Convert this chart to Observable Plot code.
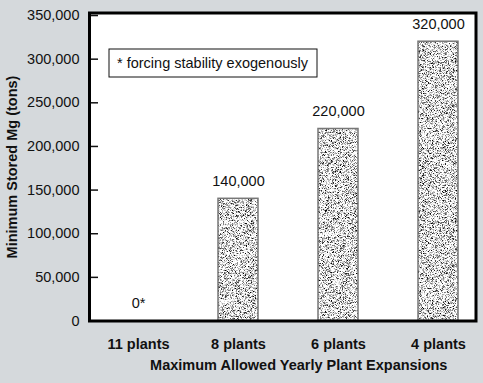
<!DOCTYPE html>
<html>
<head>
<meta charset="utf-8">
<script src="https://cdn.jsdelivr.net/npm/d3@7"></script>
<script src="https://cdn.jsdelivr.net/npm/@observablehq/plot@0.6"></script>
<style>
  html, body { margin: 0; padding: 0; background: #d5d9dc; }
  #chart { width: 483px; height: 383px; }
  svg { display: block; }
</style>
</head>
<body>
<div id="chart"></div>
<script>
const categories = ["11 plants", "8 plants", "6 plants", "4 plants"];
const values = [0, 140000, 220000, 320000];
const valueLabels = ["0*", "140,000", "220,000", "320,000"];
const yTicks = [0, 50000, 100000, 150000, 200000, 250000, 300000, 350000];
const yTitle = "Minimum Stored Mg (tons)";
const xTitle = "Maximum Allowed Yearly Plant Expansions";
const note = "* forcing stability exogenously";

const data = categories.map((c, i) => ({category: c, value: values[i], label: valueLabels[i]}));

const ns = "http://www.w3.org/2000/svg";
function defsMark() {
  const g = document.createElementNS(ns, "g");
  g.innerHTML = `<defs>
    <filter id="stippleNoise" filterUnits="userSpaceOnUse" x="0" y="0" width="483" height="383" color-interpolation-filters="sRGB">
      <feTurbulence type="fractalNoise" baseFrequency="1.6" numOctaves="2" seed="7"/>
      <feColorMatrix type="matrix" values="1 0 0 0 0  1 0 0 0 0  1 0 0 0 0  0 0 0 0 1"/>
      <feComponentTransfer>
        <feFuncR type="linear" slope="3.2" intercept="-0.72"/>
        <feFuncG type="linear" slope="3.2" intercept="-0.72"/>
        <feFuncB type="linear" slope="3.2" intercept="-0.72"/>
      </feComponentTransfer>
    </filter>
    <pattern id="stipple" patternUnits="userSpaceOnUse" x="0" y="0" width="483" height="383">
      <rect width="483" height="383" filter="url(#stippleNoise)"/>
    </pattern>
  </defs>`;
  return g;
}

function noteMark(index, scales, values, dimensions) {
  const g = document.createElementNS(ns, "g");
  const x0 = dimensions.marginLeft + 20, y0 = dimensions.marginTop + 36.5;
  const rect = document.createElementNS(ns, "rect");
  rect.setAttribute("x", x0);
  rect.setAttribute("y", y0);
  rect.setAttribute("width", 208);
  rect.setAttribute("height", 28);
  rect.setAttribute("fill", "white");
  rect.setAttribute("stroke", "#111");
  rect.setAttribute("stroke-width", 1);
  const t = document.createElementNS(ns, "text");
  t.setAttribute("x", x0 + 8);
  t.setAttribute("y", y0 + 14);
  t.setAttribute("dy", "0.35em");
  t.setAttribute("text-anchor", "start");
  t.setAttribute("font-size", "14.5");
  t.setAttribute("fill", "#111");
  t.textContent = note;
  g.append(rect, t);
  return g;
}

const chart = Plot.plot({
  width: 483,
  height: 383,
  marginLeft: 89,
  marginRight: 7.5,
  marginTop: 12.5,
  marginBottom: 62.5,
  style: {background: "#d5d9dc", fontFamily: "'Liberation Sans', Arial, sans-serif", color: "#111"},
  x: {domain: categories, range: [58, 518], padding: 0.6},
  y: {domain: [0, 352900]},
  marks: [
    defsMark,
    Plot.frame({fill: "white", stroke: null}),
    Plot.barY(data, {x: "category", y: "value", fill: "url(#stipple)", stroke: "#777", strokeWidth: 1.5}),
    Plot.text(data, {x: "category", y: "value", text: "label", dy: -17.5, lineAnchor: "middle", fontSize: 14.5, fill: "#111"}),
    Plot.axisY(yTicks, {tickSize: 9, dx: 9, text: null, label: null, strokeWidth: 1.5, stroke: "#111"}),
    Plot.axisY(yTicks, {tickSize: 0, tickPadding: 10, tickFormat: d3.format(","), label: null, fontSize: 14.5, fill: "#111"}),
    Plot.axisX({tickSize: 0, tickPadding: 17.5, label: null, fontSize: 14.5, fontWeight: "bold", fill: "#111"}),
    Plot.text([yTitle], {frameAnchor: "left", textAnchor: "middle", rotate: -90, dx: -77, fontSize: 14.5, fontWeight: "bold", fill: "#111"}),
    Plot.text([xTitle], {frameAnchor: "bottom", dx: 16, dy: 44.5, lineAnchor: "middle", fontSize: 14.5, fontWeight: "bold", fill: "#111"}),
    noteMark,
    Plot.frame({stroke: "#000", strokeWidth: 3})
  ]
});
document.getElementById("chart").append(chart);
</script>
</body>
</html>
